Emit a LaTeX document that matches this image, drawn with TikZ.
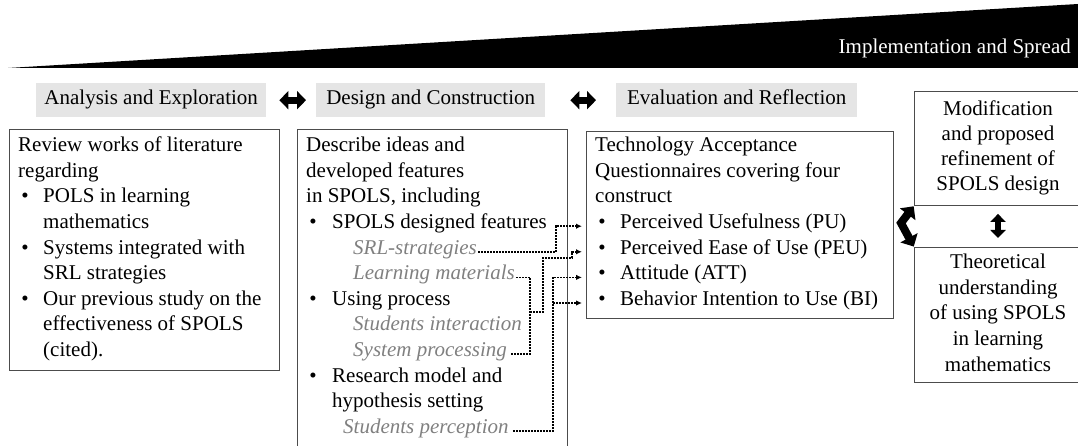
\documentclass[tikz,border=0pt]{standalone}
\usepackage{fontspec}
\setmainfont{Liberation Serif}
\usetikzlibrary{arrows.meta}
\begin{document}
\begin{tikzpicture}[x=1pt,y=-1pt,
  txt/.style={inner sep=0pt,font=\fontsize{21}{25.6}\selectfont},
  sub/.style={inner sep=0pt,font=\fontsize{21}{25.6}\selectfont\itshape,text=black!50},
  hdr/.style={txt,fill=black!10,minimum height=34pt,text height=14pt,text depth=4.5pt,anchor=north west},
  frame/.style={draw=black!70,line width=0.9pt,inner sep=0pt,anchor=north west},
  link/.style={line width=1.7pt,dash pattern=on 1.7pt off 1.3pt},
  linkarrow/.style={link,-{Latex[length=6pt,width=5.5pt]},shorten >=4pt},
  blockarrow/.style={line width=7pt,{Triangle[width=18pt,length=9pt]}-{Triangle[width=18pt,length=9pt]}},
]
\useasboundingbox (0,0) rectangle (1078,446);
\clip (0,0) rectangle (1078,446);

% rising wedge
\fill[black] (8,68) -- (1078,4) -- (1078,68) -- cycle;
\node[txt,text=white,anchor=base east] (spread) at (1071,54) {Implementation and Spread};

% phase headers
\node[hdr,minimum width=230pt] (anhdr) at (36,83) {Analysis and Exploration};
\node[hdr,minimum width=229pt] (dehdr) at (316,83) {Design and Construction};
\node[hdr,minimum width=241pt] (evhdr) at (616,83) {Evaluation and Reflection};
\draw[blockarrow,shorten <=13pt,shorten >=10pt] (anhdr.east) -- (dehdr.west);
\draw[blockarrow,shorten <=25pt,shorten >=20pt] (dehdr.east) -- (evhdr.west);

% frames
\node[frame,minimum width=270pt,minimum height=241pt] (litbox) at (9,129) {};
\node[frame,minimum width=270pt,minimum height=340pt] (devbox) at (297,129) {};
\node[frame,minimum width=307pt,minimum height=187pt] (evbox) at (586,131) {};
\node[frame,minimum width=175pt,minimum height=114pt] (modbox) at (914,91) {};
\node[frame,minimum width=175pt,minimum height=135pt] (theobox) at (914,247) {};

% literature review
\node[txt,anchor=base west] (l0) at (18,151.7) {Review works of literature};
\node[txt,anchor=base west] (l1) at (18,177.3) {regarding};
\node[txt,anchor=base] (lb2) at (25,202.9) {•};
\node[txt,anchor=base west] (l2) at (43,202.9) {POLS in learning};
\node[txt,anchor=base west] (l3) at (43,228.5) {mathematics};
\node[txt,anchor=base] (lb4) at (25,254.1) {•};
\node[txt,anchor=base west] (l4) at (43,254.1) {Systems integrated with};
\node[txt,anchor=base west] (l5) at (43,279.7) {SRL strategies};
\node[txt,anchor=base] (lb6) at (25,305.3) {•};
\node[txt,anchor=base west] (l6) at (43,305.3) {Our previous study on the};
\node[txt,anchor=base west] (l7) at (43,330.9) {effectiveness of SPOLS};
\node[txt,anchor=base west] (l8) at (43,356.5) {(cited).};

% design and construction
\node[txt,anchor=base west] (d0) at (306,151.7) {Describe ideas and};
\node[txt,anchor=base west] (d1) at (306,177.3) {developed features};
\node[txt,anchor=base west] (d2) at (306,202.9) {in SPOLS, including};
\node[txt,anchor=base] (db3) at (313,228.5) {•};
\node[txt,anchor=base west] (d3) at (332,228.5) {SPOLS designed features};
\node[sub,anchor=base west] (srl) at (353,254.1) {SRL-strategies};
\node[sub,anchor=base west] (lm) at (353,279.7) {Learning materials};
\node[txt,anchor=base] (db6) at (313,305.3) {•};
\node[txt,anchor=base west] (d6) at (332,305.3) {Using process};
\node[sub,anchor=base west] (si) at (353,330.9) {Students interaction};
\node[sub,anchor=base west] (sp) at (353,356.5) {System processing};
\node[txt,anchor=base] (db9) at (313,382.1) {•};
\node[txt,anchor=base west] (d9) at (332,382.1) {Research model and};
\node[txt,anchor=base west] (d10) at (332,407.7) {hypothesis setting};
\node[sub,anchor=base west] (sperc) at (343,433.3) {Students perception};

% technology acceptance constructs
\node[txt,anchor=base west] (e0) at (595,151.7) {Technology Acceptance};
\node[txt,anchor=base west] (e1) at (595,177.3) {Questionnaires covering four};
\node[txt,anchor=base west] (e2) at (595,202.9) {construct};
\node[txt,anchor=base] (bpu) at (602,228.5) {•};
\node[txt,anchor=base west] (pu) at (620,228.5) {Perceived Usefulness (PU)};
\node[txt,anchor=base] (bpeu) at (602,254.1) {•};
\node[txt,anchor=base west] (peu) at (620,254.1) {Perceived Ease of Use (PEU)};
\node[txt,anchor=base] (batt) at (602,279.7) {•};
\node[txt,anchor=base west] (att) at (620,279.7) {Attitude (ATT)};
\node[txt,anchor=base] (bbi) at (602,305.3) {•};
\node[txt,anchor=base west] (bi) at (620,305.3) {Behavior Intention to Use (BI)};

% outcomes
\node[txt,anchor=base] (m0) at (998,115.7) {Modification};
\node[txt,anchor=base] (m1) at (998,140.7) {and proposed};
\node[txt,anchor=base] (m2) at (998,165.7) {refinement of};
\node[txt,anchor=base] (m3) at (998,190.7) {SPOLS design};
\node[txt,anchor=base] (t0) at (998,268.7) {Theoretical};
\node[txt,anchor=base] (t1) at (998,294.3) {understanding};
\node[txt,anchor=base] (t2) at (998,319.9) {of using SPOLS};
\node[txt,anchor=base] (t3) at (998,345.5) {in learning};
\node[txt,anchor=base] (t4) at (998,371.1) {mathematics};

\draw[line width=6pt,{Triangle[width=15pt,length=8pt]}-{Triangle[width=15pt,length=8pt]},shorten <=8pt,shorten >=9pt]
  (modbox.south -| m3) -- (theobox.north -| t0);

% bent double arrow from evaluation to both outcomes
\coordinate (bend) at (901,223);
\draw[line width=8pt,miter limit=4,{Triangle[width=19pt,length=10pt]}-{Triangle[width=19pt,length=10pt]},shorten <=0.5pt,shorten >=0.5pt]
  (modbox.south west) -- (bend) -- (theobox.north west);

% dotted links from features to constructs
\coordinate (railA) at (556,0);
\coordinate (railB) at (530,312);
\coordinate (railC) at (543,258);
\coordinate (railD) at (572,0);
\coordinate (railE) at (553,0);

\draw[linkarrow,shorten <=1pt] (srl.mid east) -| (railA |- bpu.mid) -- (evbox.west |- bpu.mid);
\draw[link,shorten <=1pt] (lm.mid east) -| (railB) |- ([xshift=4pt]sp.mid east);
\draw[linkarrow] (railB) -| (railC) -| (railD |- bpeu.mid) -- (evbox.west |- bpeu.mid);
\draw[linkarrow] ([xshift=4pt]sperc.mid east) -| (railE |- batt.mid) -- (evbox.west |- batt.mid);
\draw[linkarrow] (railE |- bbi.mid) -- (evbox.west |- bbi.mid);
\end{tikzpicture}
\end{document}
